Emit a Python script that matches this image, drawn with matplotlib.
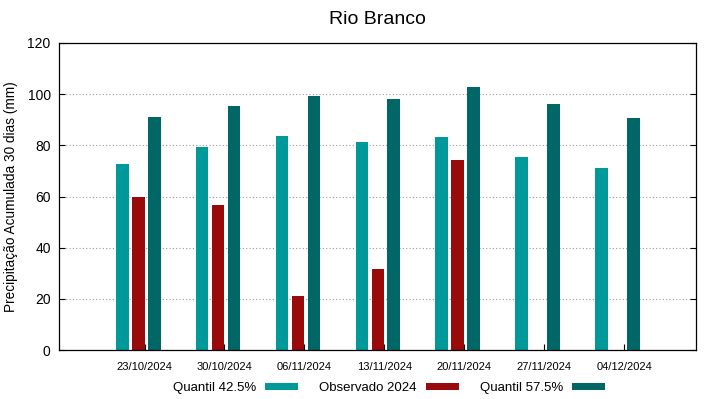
import numpy as np
import matplotlib
matplotlib.use("Agg")
import matplotlib.pyplot as plt

plt.rcParams['font.family'] = ['Liberation Sans', 'DejaVu Sans']

datas = ["23/10/2024", "30/10/2024", "06/11/2024", "13/11/2024",
         "20/11/2024", "27/11/2024", "04/12/2024"]
quantil_425 = [72.7, 79.4, 83.5, 81.2, 83.4, 75.4, 71.0]
observado_2024 = [60.0, 56.6, 21.1, 31.7, 74.3, np.nan, np.nan]
quantil_575 = [91.0, 95.4, 99.3, 98.1, 102.9, 96.2, 90.6]

c_q425 = "#009999"
c_obs = "#990a0a"
c_q575 = "#006666"

fig = plt.figure(figsize=(7.19, 3.99), dpi=100)
ax = fig.add_axes([59/719, 49/399, 637/719, 307/399])

idx = np.arange(len(datas))
w = 0.16
ax.bar(idx - 0.2, quantil_425, width=w, color=c_q425, label="Quantil 42.5%", zorder=2)
ax.bar(idx, observado_2024, width=w, color=c_obs, label="Observado 2024", zorder=2)
ax.bar(idx + 0.2, quantil_575, width=w, color=c_q575, label="Quantil 57.5%", zorder=2)

ax.set_xlim(-0.99, 6.98)
ax.set_ylim(0, 120)
ax.set_yticks(np.arange(0, 121, 20))
ax.set_xticks(idx + 0.08)
ax.set_xticklabels(datas, fontsize=8)
ax.tick_params(axis='y', direction='in', length=4, labelsize=10, right=True, pad=6)
ax.tick_params(axis='x', direction='in', length=4, pad=9)
ax.set_axisbelow(True)
ax.yaxis.grid(True, linestyle=(0, (1, 2)), color="#9a9a9a", linewidth=0.8)
for s in ax.spines.values():
    s.set_linewidth(0.9)
    s.set_color("black")

ax.set_ylabel("Precipitação Acumulada 30 dias (mm)", fontsize=9.8, labelpad=7)
ax.set_title("Rio Branco", fontsize=14, pad=14)

fig.legend(loc='center', bbox_to_anchor=(389/719, 1 - 388/399), ncol=3,
           frameon=False, markerfirst=False, fontsize=9.5,
           handlelength=2.5, handleheight=0.45, handletextpad=0.7,
           columnspacing=1.6, borderpad=0, borderaxespad=0)

fig.savefig("out.png", dpi=100)
